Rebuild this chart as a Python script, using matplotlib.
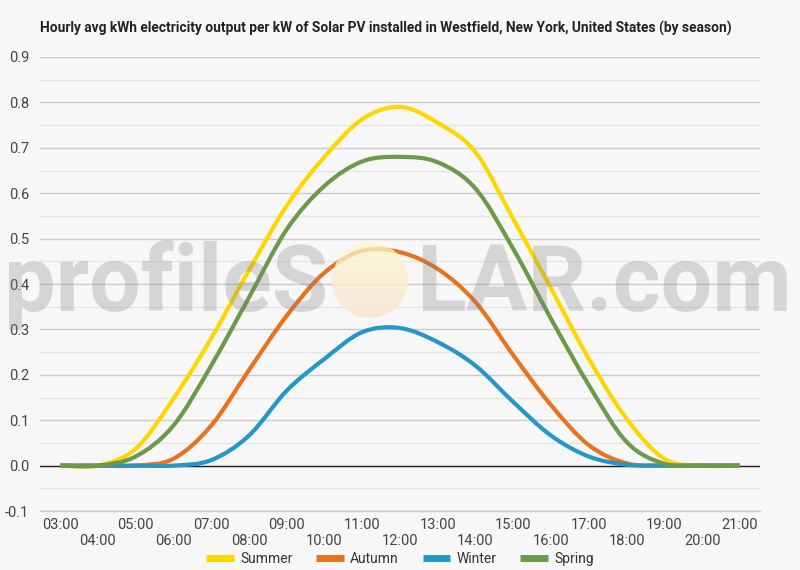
import numpy as np
import matplotlib
matplotlib.use('Agg')
import matplotlib.pyplot as plt
from matplotlib.path import Path
from matplotlib.patches import PathPatch, Circle
from matplotlib.lines import Line2D

# ---------------- data ----------------
hours = list(range(3, 22))
hour_labels = [f"{h:02d}:00" for h in hours]
series_names = ["Summer", "Autumn", "Winter", "Spring"]
summer = [0, 0, 0.037, 0.147, 0.28, 0.43, 0.572, 0.68, 0.763, 0.79, 0.755,
          0.69, 0.543, 0.39, 0.235, 0.103, 0.015, 0, 0]
autumn = [0, 0, 0, 0.015, 0.088, 0.21, 0.33, 0.425, 0.473, 0.47, 0.433,
          0.36, 0.243, 0.133, 0.045, 0.005, 0, 0, 0]
winter = [0, 0, 0, 0, 0.012, 0.066, 0.165, 0.235, 0.294, 0.303, 0.272,
          0.22, 0.14, 0.066, 0.02, 0.002, 0, 0, 0]
spring = [0, 0, 0.02, 0.088, 0.22, 0.37, 0.52, 0.616, 0.67, 0.68, 0.668,
          0.61, 0.477, 0.323, 0.177, 0.052, 0.004, 0, 0]
colors = ["#FFD600", "#E8731E", "#2596C8", "#6A9A4A"]
title = "Hourly avg kWh electricity output per kW of Solar PV installed in Westfield, New York, United States (by season)"
y_ticks = [-0.1, 0.0, 0.1, 0.2, 0.3, 0.4, 0.5, 0.6, 0.7, 0.8, 0.9]

plt.rcParams['font.family'] = ['Roboto', 'DejaVu Sans']

BG = "#F7F7F7"
fig = plt.figure(figsize=(8, 5.7), dpi=100, facecolor=BG)
ax = fig.add_axes([0.05, 0.1035, 0.90, 0.7965])
ax.set_facecolor(BG)
ax.set_axisbelow(True)


def smooth_path(xs, ys):
    n = len(xs)
    verts = [(xs[0], ys[0])]
    codes = [Path.MOVETO]
    for i in range(n - 1):
        a = max(i - 1, 0)
        d = min(i + 2, n - 1)
        x0, y0 = xs[a], ys[a]
        x1, y1 = xs[i], ys[i]
        x2, y2 = xs[i + 1], ys[i + 1]
        x3, y3 = xs[d], ys[d]
        c1 = (x1 + (x2 - x0) / 6.0, y1 + (y2 - y0) / 6.0)
        c2 = (x2 - (x3 - x1) / 6.0, y2 - (y3 - y1) / 6.0)
        verts += [c1, c2, (x2, y2)]
        codes += [Path.CURVE4] * 3
    return Path(verts, codes)


ax.set_xlim(2.47, 21.53)
ax.set_ylim(-0.1, 0.9)

# grid
ax.set_yticks(y_ticks)
ax.set_yticklabels([f"{v:.1f}" for v in y_ticks])
ax.set_yticks(np.arange(-0.05, 0.9, 0.1), minor=True)
ax.grid(axis='y', which='major', color='#CCCCCC', lw=1.0)
ax.grid(axis='y', which='minor', color='#E6E6E6', lw=1.0)
ax.axhline(0, color='#222222', lw=1.0, zorder=2)

for s in ['top', 'right', 'left']:
    ax.spines[s].set_visible(False)
ax.spines['bottom'].set_color('#CCCCCC')
ax.spines['bottom'].set_linewidth(1.0)

ax.set_xticks(hours)
ax.set_xticklabels([lab if i % 2 == 0 else "\n" + lab for i, lab in enumerate(hour_labels)])
ax.tick_params(axis='x', length=0, pad=5, labelsize=10.5, labelcolor='#444444')
ax.tick_params(axis='y', which='both', length=0, pad=8, labelsize=10.5, labelcolor='#444444')

for name, vals, col in zip(series_names, [summer, autumn, winter, spring], colors):
    p = smooth_path(hours, vals)
    ax.add_patch(PathPatch(p, fill=False, edgecolor=col, lw=3.0, zorder=3,
                           capstyle='butt', joinstyle='round'))

handles = [Line2D([0], [0], color=c, lw=5, solid_capstyle='butt') for c in colors]
fig.legend(handles, series_names, loc='center', bbox_to_anchor=(0.5, 0.019),
           ncol=4, frameon=False, fontsize=10, handlelength=2.0,
           handletextpad=0.45, columnspacing=1.7, labelcolor='#333333')

fig.text(40 / 800, 1 - 28 / 570, title, fontsize=9.95, fontweight='bold',
         color='#222222', ha='left', va='center')

# watermark overlay
ov = fig.add_axes([0, 0, 1, 1], zorder=10)
ov.set_xlim(0, 800)
ov.set_ylim(570, 0)
ov.axis('off')
ov.patch.set_alpha(0)
ov.text(4, 311, "profileS", fontsize=66, fontweight='bold', color='#808080',
        alpha=0.28, ha='left', va='baseline')
ov.text(416, 311, "LAR.com", fontsize=66, fontweight='bold', color='#808080',
        alpha=0.28, ha='left', va='baseline')
grad = np.zeros((50, 1, 4))
top = np.array([252, 249, 205]) / 255.0
bot = np.array([248, 226, 205]) / 255.0
for i in range(50):
    t = i / 49.0
    grad[i, 0, :3] = top * (1 - t) + bot * t
    grad[i, 0, 3] = 0.75
im = ov.imshow(grad, extent=(332, 408, 318, 242), aspect='auto',
               interpolation='bilinear', zorder=1)
circ = Circle((370, 280), 38, transform=ov.transData)
im.set_clip_path(circ)
ov.set_xlim(0, 800)
ov.set_ylim(570, 0)

fig.savefig("out.png", dpi=100, facecolor=BG)
